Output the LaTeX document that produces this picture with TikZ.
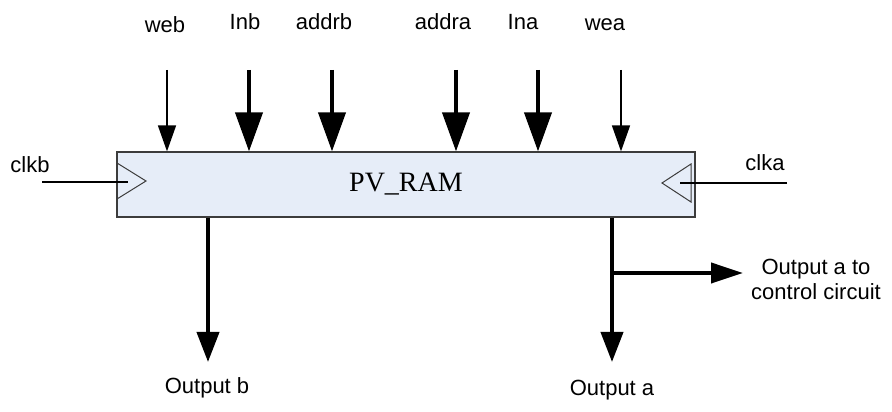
\documentclass[tikz,border=0pt]{standalone}
\usepackage{fontspec}
\setmainfont{Liberation Serif}
\setsansfont{Liberation Sans}
\usetikzlibrary{arrows.meta,positioning}
\definecolor{ramfill}{RGB}{230,237,248}
\definecolor{ramedge}{RGB}{60,60,60}

\begin{document}
\begin{tikzpicture}[
  x=1pt, y=1pt,
  sig/.style={font=\sffamily\fontsize{22}{25}\selectfont, align=center, inner sep=0pt},
  ram/.style={draw=ramedge, fill=ramfill, line width=1.2pt, minimum width=578pt, minimum height=65pt, inner sep=0pt, font=\fontsize{28}{30}\selectfont},
  wire/.style={line width=1.5pt, -{Triangle[length=26pt,width=18pt]}},
  bus/.style={line width=4pt, -{Triangle[length=39pt,width=27pt]}},
  outbus/.style={line width=4pt, -{Triangle[length=30pt,width=22pt]}},
  tapbus/.style={line width=4pt, -{Triangle[length=32pt,width=20pt]}},
  clk/.style={draw=ramedge, line width=1pt},
  clkwire/.style={line width=1.5pt}
]
  \useasboundingbox (0,0) rectangle (892,412);

  \node[ram] (ram) at (406,227.5) {PV\_RAM};

  \node[sig] (web) at (165,387) {web};
  \node[sig] (inb) at (245,390) {Inb};
  \node[sig] (addrb) at (324,390) {addrb};
  \node[sig] (addra) at (443,390) {addra};
  \node[sig] (ina) at (523,390) {Ina};
  \node[sig] (wea) at (605,387) {wea};
  \node[sig] (clkb) at (30,247) {clkb};
  \node[sig] (clka) at (765,249) {clka};
  \node[sig] (outb) at (207,24) {Output b};
  \node[sig] (outa) at (612,22) {Output a};
  \node[sig] (ctrl) at (816,132.5) {Output a to\\control circuit};

  \coordinate (webtop) at (167,342);
  \coordinate (inbtop) at (249,342);
  \coordinate (addrbtop) at (332,342);
  \coordinate (addratop) at (456,342);
  \coordinate (inatop) at (538,342);
  \coordinate (weatop) at (621,342);
  \coordinate (clkbend) at (42,230);
  \coordinate (clkaend) at (787,229);
  \coordinate (outbtip) at (208,50);
  \coordinate (outatip) at (612,50);
  \coordinate (tap) at (612,139);
  \coordinate (ctrltip) at (743,139);

  \draw[wire] (webtop) -- (webtop |- ram.north);
  \draw[bus] (inbtop) -- (inbtop |- ram.north);
  \draw[bus] (addrbtop) -- (addrbtop |- ram.north);
  \draw[bus] (addratop) -- (addratop |- ram.north);
  \draw[bus] (inatop) -- (inatop |- ram.north);
  \draw[wire] (weatop) -- (weatop |- ram.north);

  \draw[clk] (117,249) -- (146,231) -- (117,213);
  \draw[clk] (691,248) -- (662,229) -- (691,210) -- cycle;
  \draw[clkwire] (clkbend) -- (128,230);
  \draw[clkwire] (clkaend) -- (680,229);

  \draw[outbus] (outbtip |- ram.south) -- (outbtip);
  \draw[outbus] (outatip |- ram.south) -- (outatip);
  \draw[tapbus] (tap) -- (ctrltip);
\end{tikzpicture}
\end{document}
